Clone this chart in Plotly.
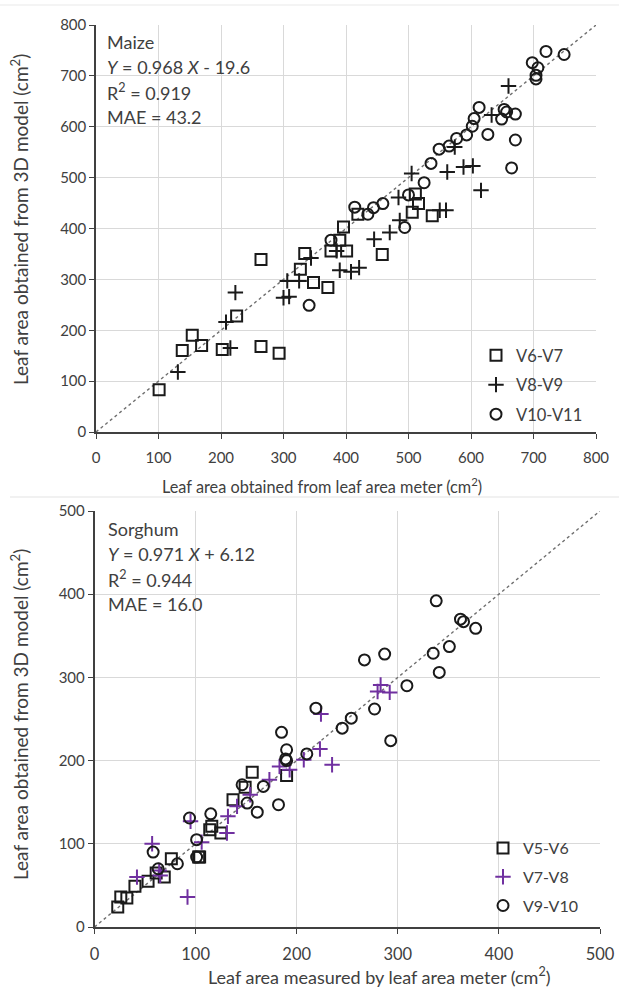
import plotly.graph_objects as go

# ---------------- Maize data ----------------
maize_v6v7_x = [101, 138, 154, 169, 202, 225, 264, 264, 293, 327, 334, 348, 371, 376, 390, 401, 396, 419, 458, 506, 511, 516, 538]
maize_v6v7_y = [83, 160, 190, 170, 162, 228, 339, 168, 155, 320, 351, 294, 284, 356, 377, 356, 403, 428, 349, 432, 468, 449, 425]

maize_v8v9_x = [131, 208, 215, 223, 300, 309, 306, 325, 344, 385, 390, 408, 421, 445, 470, 486, 484, 505, 550, 560, 562, 574, 588, 603, 616, 633, 660]
maize_v8v9_y = [118, 216, 165, 274, 264, 266, 297, 297, 342, 356, 318, 315, 323, 379, 392, 416, 461, 508, 436, 436, 511, 560, 521, 523, 475, 623, 680]

maize_v10v11_x = [341, 376, 414, 435, 444, 459, 494, 500, 525, 536, 549, 565, 577, 593, 602, 605, 613, 627, 649, 653, 657, 671, 671, 665, 698, 707, 704, 704, 720, 749]
maize_v10v11_y = [249, 377, 442, 428, 441, 449, 402, 466, 490, 528, 556, 562, 577, 584, 601, 616, 638, 585, 615, 634, 629, 625, 574, 519, 726, 716, 701, 694, 748, 742]

maize_identity = [0, 800]
maize_ticks = [0, 100, 200, 300, 400, 500, 600, 700, 800]

# ---------------- Sorghum data ----------------
sorghum_v5v6_x = [23, 26, 32, 40, 53, 61, 69, 76, 103, 104, 114, 116, 125, 137, 149, 156, 190]
sorghum_v5v6_y = [24, 36, 35, 49, 55, 65, 60, 82, 84, 84, 117, 121, 113, 153, 168, 186, 182]

sorghum_v7v8_x = [42, 57, 64, 65, 92, 95, 106, 131, 132, 141, 154, 173, 183, 193, 207, 223, 224, 235, 280, 283, 292]
sorghum_v7v8_y = [60, 100, 68, 62, 36, 127, 102, 113, 133, 145, 159, 177, 193, 189, 201, 214, 256, 195, 283, 291, 282]

sorghum_v9v10_x = [58, 63, 82, 94, 101, 101, 115, 146, 151, 161, 167, 182, 185, 190, 189, 190, 210, 219, 245, 254, 267, 277, 287, 293, 309, 335, 338, 341, 351, 362, 365, 377]
sorghum_v9v10_y = [90, 70, 76, 131, 105, 84, 136, 171, 149, 138, 169, 147, 234, 213, 202, 200, 208, 263, 239, 251, 321, 262, 328, 224, 290, 329, 392, 306, 337, 370, 367, 359]

sorghum_identity = [0, 500]
sorghum_ticks = [0, 100, 200, 300, 400, 500]

W, H = 619, 987
FONT = "Lato, 'Open Sans', sans-serif"
TXT = "#404040"
BLACK = "#1a1a1a"
PURPLE = "#7030A0"
GRID = "#d9d9d9"

def px_x(p):
    return p / W

def px_y(p):
    return 1 - p / H

fig = go.Figure()

def marker(symbol, color):
    return dict(symbol=symbol, size=11, color=color, line=dict(color=color, width=2))

# identity lines
fig.add_trace(go.Scatter(x=maize_identity, y=maize_identity, mode="lines",
                         line=dict(color="#6f6f6f", width=1.4, dash="3px,3px"),
                         showlegend=False, hoverinfo="skip", xaxis="x", yaxis="y"))
fig.add_trace(go.Scatter(x=sorghum_identity, y=sorghum_identity, mode="lines",
                         line=dict(color="#6f6f6f", width=1.4, dash="3px,3px"),
                         showlegend=False, hoverinfo="skip", xaxis="x2", yaxis="y2"))

# maize series
fig.add_trace(go.Scatter(x=maize_v6v7_x, y=maize_v6v7_y, mode="markers", name="V6-V7",
                         marker=marker("square-open", BLACK), xaxis="x", yaxis="y",
                         legend="legend", legendgroup="a"))
fig.add_trace(go.Scatter(x=maize_v8v9_x, y=maize_v8v9_y, mode="markers", name="V8-V9",
                         marker=marker("cross-thin-open", BLACK), xaxis="x", yaxis="y",
                         legend="legend", legendgroup="b"))
fig.add_trace(go.Scatter(x=maize_v10v11_x, y=maize_v10v11_y, mode="markers", name="V10-V11",
                         marker=marker("circle-open", BLACK), xaxis="x", yaxis="y",
                         legend="legend", legendgroup="c"))

# sorghum series
fig.add_trace(go.Scatter(x=sorghum_v5v6_x, y=sorghum_v5v6_y, mode="markers", name="V5-V6",
                         marker=marker("square-open", BLACK), xaxis="x2", yaxis="y2",
                         legend="legend2", legendgroup="d"))
fig.add_trace(go.Scatter(x=sorghum_v7v8_x, y=sorghum_v7v8_y, mode="markers", name="V7-V8",
                         marker=marker("cross-thin-open", PURPLE), xaxis="x2", yaxis="y2",
                         legend="legend2", legendgroup="e"))
fig.add_trace(go.Scatter(x=sorghum_v9v10_x, y=sorghum_v9v10_y, mode="markers", name="V9-V10",
                         marker=marker("circle-open", BLACK), xaxis="x2", yaxis="y2",
                         legend="legend2", legendgroup="f"))

axis_common = dict(
    showgrid=True, gridcolor=GRID, gridwidth=1,
    showline=True, linecolor="#404040", linewidth=1.5,
    ticks="outside", ticklen=5, tickcolor="#404040", tickwidth=1.2,
    zeroline=False, automargin=False, fixedrange=True,
)

def tf(size):
    return dict(family=FONT, size=size, color=TXT)

fig.update_layout(
    width=W, height=H, autosize=False,
    margin=dict(l=0, r=0, t=0, b=0),
    paper_bgcolor="white", plot_bgcolor="white",
    font=dict(family=FONT, color=TXT),
    xaxis=dict(axis_common, domain=[px_x(96), px_x(596)], range=[0, 800], tickvals=maize_ticks,
               anchor="y", ticklabelstandoff=6, tickfont=tf(15)),
    yaxis=dict(axis_common, domain=[px_y(432), px_y(25)], range=[0, 800], tickvals=maize_ticks,
               anchor="x", tickfont=tf(15)),
    xaxis2=dict(axis_common, domain=[px_x(94.5), px_x(600)], range=[0, 500], tickvals=sorghum_ticks,
                anchor="y2", ticklabelstandoff=6, tickfont=tf(16.5)),
    yaxis2=dict(axis_common, domain=[px_y(927), px_y(511)], range=[0, 500], tickvals=sorghum_ticks,
                anchor="x2", tickfont=tf(15)),
    legend=dict(x=px_x(476), y=px_y(338), xanchor="left", yanchor="top",
                bgcolor="rgba(0,0,0,0)", font=tf(16.5),
                traceorder="grouped", tracegroupgap=5),
    legend2=dict(x=px_x(483), y=px_y(831), xanchor="left", yanchor="top",
                 bgcolor="rgba(0,0,0,0)", font=tf(16),
                 traceorder="grouped", tracegroupgap=5),
    showlegend=True,
)

# axis titles
def title_ann(text, xp, yp, size, angle=0):
    fig.add_annotation(text=text, xref="paper", yref="paper", x=px_x(xp), y=px_y(yp),
                       xanchor="center", yanchor="middle", showarrow=False, textangle=angle,
                       font=tf(size))

title_ann("Leaf area obtained from leaf area meter (cm<sup>2</sup>)", 322, 485, 16.3)
title_ann("Leaf area obtained from 3D model (cm<sup>2</sup>)", 19, 220, 19, -90)
title_ann("Leaf area measured by leaf area meter (cm<sup>2</sup>)", 379, 976, 18)
title_ann("Leaf area obtained from 3D model (cm<sup>2</sup>)", 19, 715, 19, -90)

# stats text
def stat_lines(lines, left_px, top_px):
    for i, t in enumerate(lines):
        fig.add_annotation(text=t, xref="paper", yref="paper",
                           x=px_x(left_px), y=px_y(top_px + 25 * i),
                           xanchor="left", yanchor="middle", showarrow=False,
                           font=tf(18))

stat_lines(["Maize", "<i>Y</i> = 0.968 <i>X</i> - 19.6", "R<sup>2</sup> = 0.919", "MAE = 43.2"], 105, 42)
stat_lines(["Sorghum", "<i>Y</i> = 0.971 <i>X</i> + 6.12", "R<sup>2</sup> = 0.944", "MAE = 16.0"], 106, 529)

# faint panel separators
fig.add_shape(type="line", xref="paper", yref="paper", x0=px_x(10), x1=1, y0=px_y(497), y1=px_y(497),
              line=dict(color="#ececec", width=1.5))
fig.add_shape(type="line", xref="paper", yref="paper", x0=0, x1=1, y0=px_y(5), y1=px_y(5),
              line=dict(color="#f0f0f0", width=1.5))

fig.write_html("out.html", config={"displayModeBar": False},
               post_script="document.body.style.margin='0';")
